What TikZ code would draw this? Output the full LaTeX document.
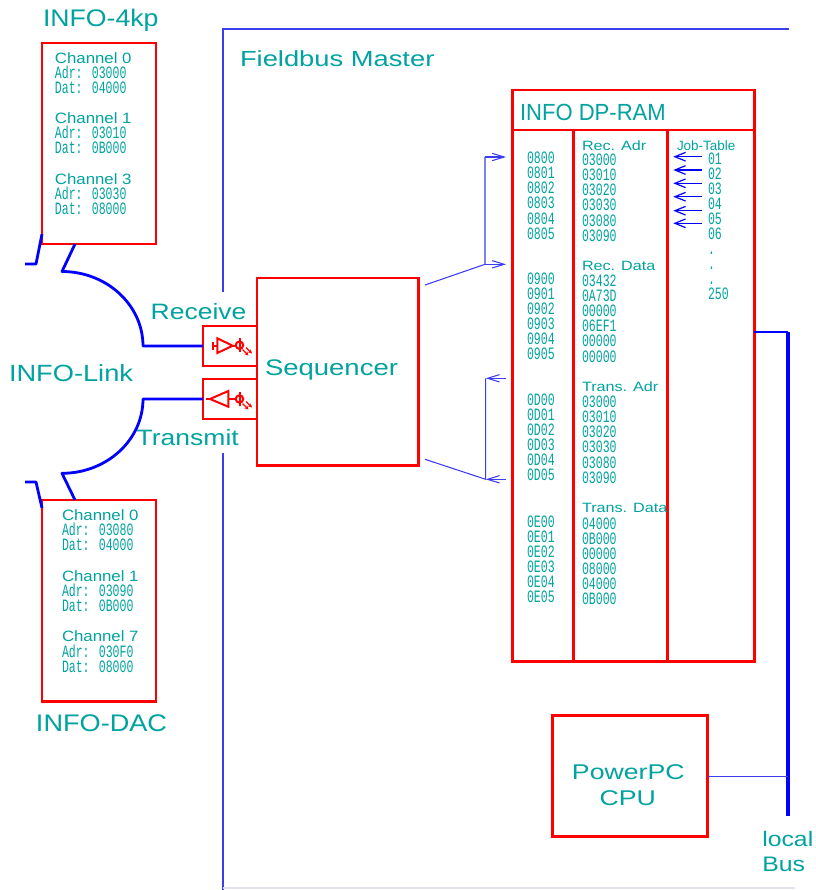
\documentclass[tikz,border=0pt]{standalone}
\usepackage{fontspec}
\setmainfont{Liberation Sans}
\newfontfamily\monof{Liberation Mono}
\usepackage{graphicx}
\usetikzlibrary{arrows.meta,fit}
\definecolor{tl}{RGB}{0,163,160}
\definecolor{rd}{RGB}{255,0,0}
\definecolor{bl}{RGB}{0,0,255}
\definecolor{lb}{RGB}{60,60,240}
\definecolor{faint}{RGB}{225,225,240}
\newcommand{\txs}[3]{\fontsize{#1}{#1}\selectfont\scalebox{#2}[1]{#3}}
\newcommand{\mtx}[1]{\monof\fontsize{13}{13}\selectfont\scalebox{0.665}[1]{#1}}
\begin{document}
\begin{tikzpicture}[x=0.75pt,y=-0.75pt,
  lbl/.style={anchor=base west, inner sep=0pt, outer sep=0pt, text=tl},
  lblc/.style={anchor=base, inner sep=0pt, outer sep=0pt, text=tl},
  mono/.style={lbl, text height=8pt, text depth=0.3pt},
  hd/.style={lbl, text height=7.6pt, text depth=0.3pt},
  box/.style={draw=rd, line width=1.9pt, inner sep=0pt, outer sep=0pt},
  link/.style={draw=bl, line width=2.1pt, line join=round},
  fine/.style={draw=lb, line width=0.8pt},
  frame/.style={draw=lb, line width=0.9pt},
  barb/.style={-{Straight Barb[length=9pt,width=5.5pt]}},
  jarr/.style={draw=bl, line width=0.9pt, -{Straight Barb[length=8pt,width=6.5pt]}},
  sym/.style={draw=rd, line width=1.5pt, line join=miter},
  symarr/.style={draw=rd, line width=1pt, -{Stealth[length=3pt,width=3pt]}}
]
\fill[white] (0,0) rectangle (815,890);
\useasboundingbox (0,0) rectangle (815,890);

% Fieldbus master frame
\draw[frame] (223,292) -- (223,29) -- (789,29);
\draw[frame] (223,453) -- (223,890);
\draw[faint, line width=0.9pt] (223,888) -- (795,888);
\node[lbl] (tfm) at (240,66.7) {\txs{16.4}{1.25}{Fieldbus Master}};

% INFO-4kp
\node[lbl] (t4kp) at (43,26.7) {\txs{18}{1.11}{INFO-4kp}};
\node[box, fit={(42,43) (156,244)}] (k4) {};
\foreach \ch/\ad/\da [count=\i from 0] in {0/03000/04000,1/03010/0B000,3/03030/08000}{
  \node[hd] (k4c\i) at (55,63+60.5*\i) {\txs{11.25}{1.12}{Channel \ch}};
  \node[mono] (k4a\i) at (55,78+60.5*\i) {\mtx{Adr: \ad}};
  \node[mono] (k4d\i) at (55,93+60.5*\i) {\mtx{Dat: \da}};
}

% INFO-DAC
\node[box, fit={(42,500) (156,701.7)}] (dac) {};
\foreach \ch/\ad/\da [count=\i from 0] in {0/03080/04000,1/03090/0B000,7/030F0/08000}{
  \node[hd] (dcc\i) at (62,520.3+60.7*\i) {\txs{11.25}{1.12}{Channel \ch}};
  \node[mono] (dca\i) at (62,535.6+60.7*\i) {\mtx{Adr: \ad}};
  \node[mono] (dcd\i) at (62,550.7+60.7*\i) {\mtx{Dat: \da}};
}
\node[lbl] (tdac) at (36,731.5) {\txs{18}{1.13}{INFO-DAC}};

% INFO-Link
\node[lbl] (tlink) at (9,381.7) {\txs{17.6}{1.16}{INFO-Link}};

% Receive / Transmit / Sequencer
\node[box, fit={(203,326) (257,366)}] (rx) {};
\node[box, fit={(203,379) (257,419)}] (tx) {};
\node[box, fit={(257,278) (418.3,465.7)}] (seq) {};
\node[lbl] (trx) at (150.7,319) {\txs{16.7}{1.19}{Receive}};
\node[lbl] (ttx) at (136.7,445.7) {\txs{16.7}{1.19}{Transmit}};
\node[lbl] (tseq) at (265,375.5) {\txs{16.9}{1.22}{Sequencer}};

% link lines
\coordinate (l1a) at (25,264);
\coordinate (l1b) at (36,264);
\draw[link] (l1a) -- (l1b) -- (k4.west |- 0,234);
\draw[link] (k4.south -| 75,0) -- (62,271.5) .. controls (106.7,271.5) and (143,305) .. (143,346) -- (rx.west);
\draw[link] (tx.west) -- (143,399) .. controls (143,440) and (106.7,473.3) .. (62,473.3) -- (dac.north -| 75,0);
\coordinate (l2a) at (25,482);
\coordinate (l2b) at (36,482);
\draw[link] (l2a) -- (l2b) -- (dac.west |- 0,508);

% receive symbol
\draw[sym] (213.3,342) -- (213.3,349.5);
\draw[sym] (213.3,345.7) -- (217.3,345.7);
\draw[sym] (217.3,338.3) -- (217.3,353) -- (232.7,345.7) -- cycle;
\draw[sym] (232.7,345.7) -- (236,345.7);
\draw[sym] (239.5,345.2) circle[radius=2.8pt];
\draw[sym] (239.5,338.3) -- (239.5,352.3);
\draw[symarr] (242.5,349.5) -- (248.5,355.5);
\draw[symarr] (246,347.5) -- (252,353.5);

% transmit symbol
\draw[sym] (206,399) -- (210,399);
\draw[sym] (210,399) -- (228.3,391) -- (228.3,406.7) -- cycle;
\draw[sym] (228.3,399) -- (236,399);
\draw[sym] (239.5,399) circle[radius=2.8pt];
\draw[sym] (239.5,392.3) -- (239.5,406);
\draw[symarr] (242.5,403.5) -- (248.5,409.5);
\draw[symarr] (246,401.5) -- (252,407.5);

% DP-RAM
\node[box, fit={(512.7,90) (754.3,661.7)}] (ram) {};
\node[box, fit={(512.7,90) (754.3,130)}] (hdr) {};
\node[box, fit={(512.7,130) (573.3,661.7)}] (col1) {};
\node[box, fit={(573.3,130) (667.3,661.7)}] (col2) {};
\node[box, fit={(667.3,130) (754.3,661.7)}] (col3) {};
\node[lbl] (thd) at (520,120) {\txs{17.5}{0.945}{INFO DP-RAM}};

% column 1
\foreach \t [count=\i from 0] in {0800,0801,0802,0803,0804,0805}
  \node[mono] (ma\i) at (527,163.3+15.2*\i) {\mtx{\t}};
\foreach \t [count=\i from 0] in {0900,0901,0902,0903,0904,0905}
  \node[mono] (mb\i) at (527,284+15.1*\i) {\mtx{\t}};
\foreach \t [count=\i from 0] in {0D00,0D01,0D02,0D03,0D04,0D05}
  \node[mono] (mc\i) at (527,405.7+15*\i) {\mtx{\t}};
\foreach \t [count=\i from 0] in {0E00,0E01,0E02,0E03,0E04,0E05}
  \node[mono] (md\i) at (527,527+15.1*\i) {\mtx{\t}};

% column 2
\node[hd] (h1) at (582,150) {\txs{10.1}{1.2}{Rec. Adr}};
\foreach \t [count=\i from 0] in {03000,03010,03020,03030,03080,03090}
  \node[mono] (na\i) at (582,165+15.3*\i) {\mtx{\t}};
\node[hd] (h2) at (582,270.7) {\txs{10.1}{1.2}{Rec. Data}};
\foreach \t [count=\i from 0] in {03432,0A73D,00000,06EF1,00000,00000}
  \node[mono] (nb\i) at (582,286+15.2*\i) {\mtx{\t}};
\node[hd] (h3) at (582,391.7) {\txs{10.1}{1.2}{Trans. Adr}};
\foreach \t [count=\i from 0] in {03000,03010,03020,03030,03080,03090}
  \node[mono] (nc\i) at (582,407.3+15.2*\i) {\mtx{\t}};
\node[hd] (h4) at (582,512.3) {\txs{10.1}{1.2}{Trans. Data}};
\foreach \t [count=\i from 0] in {04000,0B000,00000,08000,04000,0B000}
  \node[mono] (nd\i) at (582,529+15.1*\i) {\mtx{\t}};

% column 3
\node[hd] (h5) at (677,150) {\txs{10.1}{1.0}{Job-Table}};
\foreach \t [count=\i from 0] in {01,02,03,04,05,06,.,.,.,250}
  \node[mono] (ja\i) at (708,164+15.1*\i) {\mtx{\t}};
\foreach \y [count=\i] in {156.7,170,183.3,196.7,210.7,223.3}{
  \coordinate (js\i) at (701.7,\y);
  \coordinate (je\i) at (673.3,\y);
  \draw[jarr] (js\i) -- (je\i);
}

% sequencer to RAM connectors
\coordinate (sA) at (425,285);
\coordinate (jA) at (485,264.3);
\coordinate (jA0) at (485,157);
\coordinate (tA0) at (506,157);
\coordinate (tA1) at (506,264.3);
\draw[fine] (sA) -- (jA) -- (jA0);
\draw[fine,barb] (jA0) -- (tA0);
\draw[fine,barb] (jA) -- (tA1);
\coordinate (sB) at (425,459.3);
\coordinate (jB) at (485.7,479.3);
\coordinate (jB0) at (485.7,378.3);
\coordinate (tB0) at (506,378.3);
\coordinate (tB1) at (506,479.3);
\draw[fine] (sB) -- (jB) -- (jB0);
\draw[fine,barb] (tB0) -- (jB0);
\draw[fine,barb] (tB1) -- (jB);

% CPU and local bus
\node[box, fit={(552.7,715.7) (707.7,836.7)}] (cpu) {};
\node[lblc] (tpp) at (628.3,779.3) {\txs{16}{1.25}{PowerPC}};
\node[lblc] (tcpu) at (627.7,805) {\txs{16}{1.25}{CPU}};
\coordinate (busT) at (788.3,332);
\coordinate (busB) at (788.3,816);
\draw[bl, line width=3pt] (busT) -- (busB);
\draw[bl, line width=1.6pt] (ram.east |- busT) -- (busT);
\draw[lb, line width=0.9pt] (cpu.east) -- (cpu.east -| busT);
\node[lbl] (tloc) at (762.3,846) {\txs{15.75}{1.18}{local}};
\node[lbl] (tbus) at (762.3,871) {\txs{15.75}{1.18}{Bus}};
\end{tikzpicture}
\end{document}
